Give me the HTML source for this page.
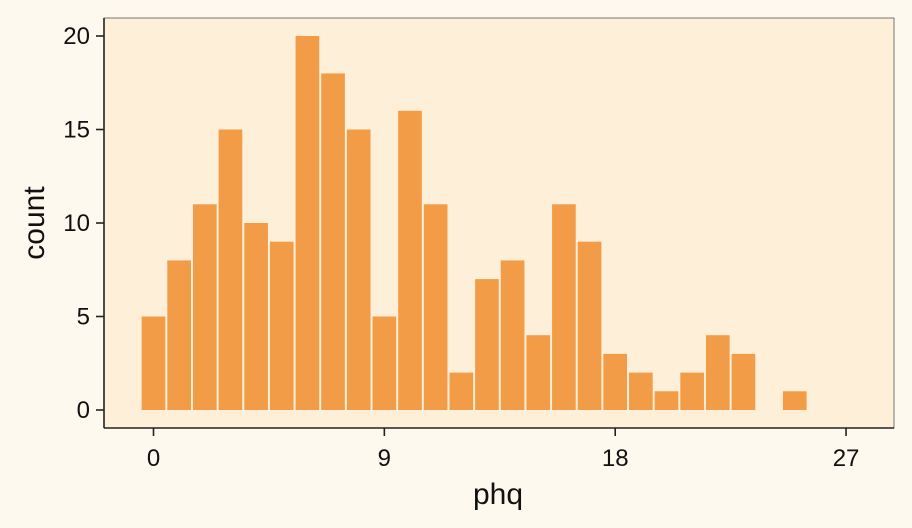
<!DOCTYPE html>
<html><head><meta charset="utf-8"><style>
html,body{margin:0;padding:0;background:#fef9ef;}
svg{display:block;font-family:"Liberation Sans",sans-serif;}
</style></head><body>
<svg width="912" height="528">
<rect x="0" y="0" width="912" height="528" fill="#fef9ef"/>
<rect x="104" y="18" width="790" height="410" fill="#feefd8" stroke="#555" stroke-width="0.8"/>
<g id="bars"></g>
<g id="axes"></g>
<text x="498" y="504" font-size="30" text-anchor="middle" fill="#111">phq</text>
<text x="0" y="0" font-size="30" text-anchor="middle" fill="#111" transform="translate(44,223) rotate(-90)">count</text>
</svg>
<script>
const phqValues=[0,1,2,3,4,5,6,7,8,9,10,11,12,13,14,15,16,17,18,19,20,21,22,23,24,25];
const counts=[5,8,11,15,10,9,20,18,15,5,16,11,2,7,8,4,11,9,3,2,1,2,4,3,0,1];
const xTicks=[0,9,18,27];
const yTicks=[0,5,10,15,20];
const NS="http://www.w3.org/2000/svg";
const xs=v=>153.5+v*25.65;
const ys=v=>410-v*(410-36)/20;
const bw=25.65;
const bars=document.getElementById('bars');
phqValues.forEach((v,i)=>{
  if(counts[i]<=0)return;
  const r=document.createElementNS(NS,'rect');
  r.setAttribute('x',xs(v)-bw/2+1);
  r.setAttribute('width',bw-2);
  r.setAttribute('y',ys(counts[i]));
  r.setAttribute('height',ys(0)-ys(counts[i]));
  r.setAttribute('fill','#f39c48');
  
  
  bars.appendChild(r);
});
const ax=document.getElementById('axes');
function line(x1,y1,x2,y2,name){const l=document.createElementNS(NS,'line');
l.setAttribute('x1',x1);l.setAttribute('y1',y1);l.setAttribute('x2',x2);l.setAttribute('y2',y2);
l.setAttribute('stroke','#222');l.setAttribute('stroke-width','1.6');


ax.appendChild(l);}
function text(x,y,s,anchor,name){const t=document.createElementNS(NS,'text');
t.setAttribute('x',x);t.setAttribute('y',y);t.setAttribute('font-size','24');t.setAttribute('fill','#111');
t.setAttribute('text-anchor',anchor);t.textContent=s;


ax.appendChild(t);}
line(104,18,104,428,'y-axis-line');
line(104,428,894,428,'x-axis-line');
xTicks.forEach(v=>{line(xs(v),428,xs(v),436,'x-tick');text(xs(v),466,String(v),'middle','x-tick-label');});
yTicks.forEach(v=>{line(96,ys(v),104,ys(v),'y-tick');text(90,ys(v)+8,String(v),'end','y-tick-label');});
</script>
</body></html>
